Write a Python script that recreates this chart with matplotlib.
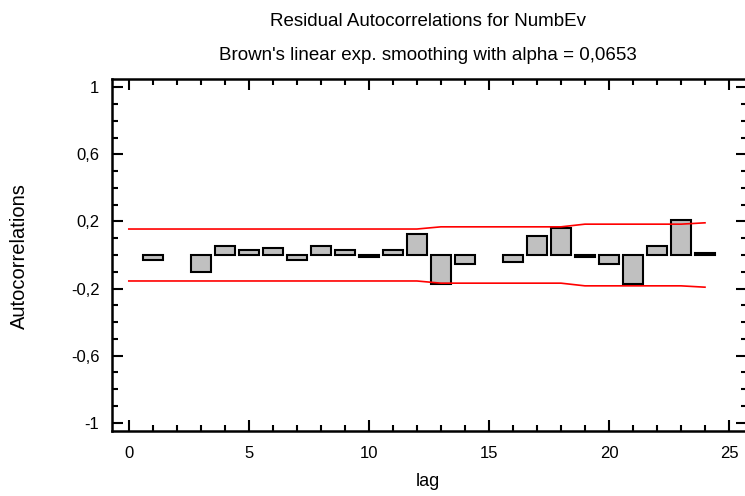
import numpy as np
import matplotlib
matplotlib.use("Agg")
import matplotlib.pyplot as plt
from matplotlib.ticker import MultipleLocator, FixedLocator, FuncFormatter

plt.rcParams['font.family'] = ['Liberation Sans', 'DejaVu Sans']

# residual autocorrelations (lags 2 and 15 show no bar)
lags = [1, 3, 4, 5, 6, 7, 8, 9, 10, 11, 12, 13, 14,
        16, 17, 18, 19, 20, 21, 22, 23, 24]
acf = [-0.028, -0.100, 0.056, 0.030, 0.040, -0.028, 0.056, 0.030, -0.010,
       0.030, 0.128, -0.172, -0.053, -0.040, 0.115, 0.162, -0.010, -0.053,
       -0.172, 0.055, 0.210, 0.010]

# 95% probability limits
limit_lags = list(range(0, 25))
upper_limit = [0.155] * 13 + [0.168] * 6 + [0.184] * 5 + [0.192]
lower_limit = [-v for v in upper_limit]

y_ticks = [-1, -0.6, -0.2, 0.2, 0.6, 1]

fig = plt.figure(figsize=(7.45, 4.96), dpi=100)
ax = fig.add_axes([112 / 745, 1 - 431 / 496, (747 - 112) / 745, (431 - 79) / 496])

ax.bar(lags, acf, width=0.85, color='#c0c0c0', edgecolor='black', linewidth=1.5, zorder=2)
ax.plot(limit_lags, upper_limit, color='red', lw=1.2, zorder=3)
ax.plot(limit_lags, lower_limit, color='red', lw=1.2, zorder=3)

ax.set_xlim(-0.7, 25.75)
ax.set_ylim(-1.05, 1.05)

ax.xaxis.set_major_locator(MultipleLocator(5))
ax.xaxis.set_minor_locator(MultipleLocator(1))
ax.yaxis.set_major_locator(FixedLocator(y_ticks))
ax.yaxis.set_minor_locator(MultipleLocator(0.1))
ax.yaxis.set_major_formatter(FuncFormatter(lambda v, p: ('%g' % v).replace('.', ',')))

ax.tick_params(which='both', direction='in', top=True, right=True, width=1.5,
               labelsize=12, colors='black')
ax.tick_params(axis='x', pad=11)
ax.tick_params(axis='y', pad=9)
ax.tick_params(which='major', length=8)
ax.tick_params(which='minor', length=4)
for s in ax.spines.values():
    s.set_linewidth(1.8)

fig.text(0.575, 1 - 22 / 496, "Residual Autocorrelations for NumbEv",
         ha='center', va='center', fontsize=13.5)
fig.text(0.575, 1 - 55 / 496, "Brown's linear exp. smoothing with alpha = 0,0653",
         ha='center', va='center', fontsize=13.5)
fig.text(0.575, 1 - 481 / 496, "lag", ha='center', va='center', fontsize=13)
fig.text(19 / 745, 1 - 256 / 496, "Autocorrelations", rotation=90,
         ha='center', va='center', fontsize=14.5)

fig.savefig("out.png", dpi=100)
